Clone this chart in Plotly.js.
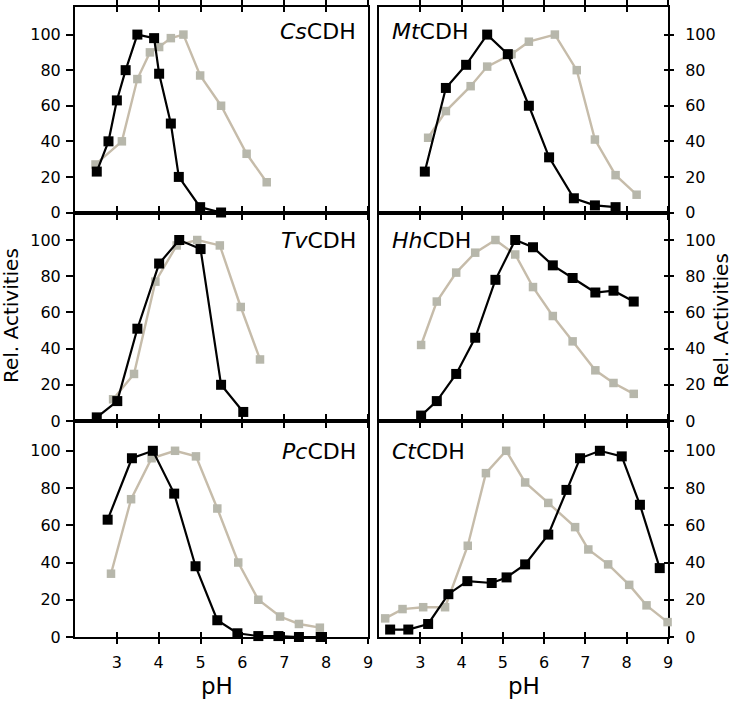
<!DOCTYPE html>
<html>
<head>
<meta charset="utf-8">
<script src="https://cdn.plot.ly/plotly-3.0.1.min.js"></script>
<style>
  html, body { margin: 0; padding: 0; background: #fff; }
  #plot { width: 742px; height: 703px; }
</style>
</head>
<body>
<div id="plot"></div>
<script>
// pH profiles, relative activity (%) - black and grey series per CDH
const csBlackPH = [2.52, 2.8, 3.0, 3.21, 3.49, 3.89, 4.01, 4.29, 4.48, 4.99, 5.49];
const csBlackAct = [23, 40, 63, 80, 100, 98, 78, 50, 20, 3, 0];
const csGreyPH = [2.49, 3.12, 3.49, 3.79, 4.01, 4.29, 4.59, 4.99, 5.49, 6.1, 6.58];
const csGreyAct = [27, 40, 75, 90, 93, 98, 100, 77, 60, 33, 17];

const mtBlackPH = [3.11, 3.62, 4.11, 4.62, 5.12, 5.63, 6.12, 6.72, 7.23, 7.73];
const mtBlackAct = [23, 70, 83, 100, 89, 60, 31, 8, 4, 3];
const mtGreyPH = [3.19, 3.62, 4.22, 4.62, 5.21, 5.63, 6.26, 6.79, 7.23, 7.73, 8.24];
const mtGreyAct = [42, 57, 71, 82, 89, 96, 100, 80, 41, 21, 10];

const tvBlackPH = [2.52, 3.01, 3.49, 4.01, 4.49, 5.0, 5.49, 6.02];
const tvBlackAct = [2, 11, 51, 87, 100, 95, 20, 5];
const tvGreyPH = [2.91, 3.41, 3.92, 4.43, 4.92, 5.46, 5.96, 6.42];
const tvGreyAct = [12, 26, 77, 97, 100, 97, 63, 34];

const hhBlackPH = [3.02, 3.4, 3.87, 4.33, 4.82, 5.3, 5.73, 6.21, 6.69, 7.24, 7.68, 8.17];
const hhBlackAct = [3, 11, 26, 46, 78, 100, 96, 86, 79, 71, 72, 66];
const hhGreyPH = [3.02, 3.4, 3.87, 4.33, 4.82, 5.3, 5.73, 6.21, 6.69, 7.24, 7.68, 8.17];
const hhGreyAct = [42, 66, 82, 93, 100, 92, 74, 58, 44, 28, 21, 15];

const pcBlackPH = [2.78, 3.36, 3.86, 4.37, 4.88, 5.4, 5.88, 6.38, 6.86, 7.35, 7.87];
const pcBlackAct = [63, 96, 100, 77, 38, 9, 2, 0.5, 0.5, 0, 0];
const pcGreyPH = [2.86, 3.34, 3.83, 4.39, 4.89, 5.4, 5.9, 6.38, 6.9, 7.35, 7.85];
const pcGreyAct = [34, 74, 96, 100, 97, 69, 40, 20, 11, 7, 5];

const ctBlackPH = [2.27, 2.71, 3.19, 3.68, 4.14, 4.73, 5.09, 5.54, 6.1, 6.54, 6.87, 7.35, 7.88, 8.32, 8.8];
const ctBlackAct = [4, 4, 7, 23, 30, 29, 32, 39, 55, 79, 96, 100, 97, 71, 37];
const ctGreyPH = [2.15, 2.57, 3.07, 3.6, 4.15, 4.59, 5.08, 5.54, 6.1, 6.75, 7.07, 7.55, 8.06, 8.48, 8.99];
const ctGreyAct = [10, 15, 16, 16, 49, 88, 100, 83, 72, 59, 47, 39, 28, 17, 8];

const xTicks = [3, 4, 5, 6, 7, 8, 9];
const yTicks = [0, 20, 40, 60, 80, 100];

const panels = [
  { label: "<i>Cs</i>CDH", row: 0, col: 0, bx: csBlackPH, by: csBlackAct, gx: csGreyPH, gy: csGreyAct },
  { label: "<i>Mt</i>CDH", row: 0, col: 1, bx: mtBlackPH, by: mtBlackAct, gx: mtGreyPH, gy: mtGreyAct },
  { label: "<i>Tv</i>CDH", row: 1, col: 0, bx: tvBlackPH, by: tvBlackAct, gx: tvGreyPH, gy: tvGreyAct },
  { label: "<i>Hh</i>CDH", row: 1, col: 1, bx: hhBlackPH, by: hhBlackAct, gx: hhGreyPH, gy: hhGreyAct },
  { label: "<i>Pc</i>CDH", row: 2, col: 0, bx: pcBlackPH, by: pcBlackAct, gx: pcGreyPH, gy: pcGreyAct },
  { label: "<i>Ct</i>CDH", row: 2, col: 1, bx: ctBlackPH, by: ctBlackAct, gx: ctGreyPH, gy: ctGreyAct }
];

const W = 742, H = 703;
const M = { l: 75, r: 74, t: 7, b: 66 };
const plotW = W - M.l - M.r, plotH = H - M.t - M.b;
function px2x(px) { return (px - M.l) / plotW; }
function px2y(py) { return (H - M.b - py) / plotH; }

const colDomains = [[0, px2x(368)], [px2x(379), 1]];
const rowDomains = [[px2y(212.5), 1], [px2y(421), px2y(212.5)], [0, px2y(421)]];
const rowRanges = [[0, 115.5], [0, 115.2], [0, 116]];
const labelY = [32, 240, 452];

const FONT = "DejaVu Sans, sans-serif";
const GREY_LINE = "#c6bcaa";
const GREY_MK = "#b7b7ab";

function axName(prefix, n) { return prefix + (n === 1 ? "" : n); }

const traces = [];
const layout = {
  width: W, height: H,
  margin: { l: M.l, r: M.r, t: M.t, b: M.b },
  paper_bgcolor: "#fff",
  plot_bgcolor: "rgba(0,0,0,0)",
  showlegend: false,
  hovermode: false,
  font: { family: FONT, size: 16, color: "#000" },
  annotations: []
};

panels.forEach((p, i) => {
  const n = i + 1;
  const xa = axName("x", n), ya = axName("y", n);
  const ox = "x" + (n + 6);

  traces.push({
    type: "scatter", mode: "lines+markers", x: p.gx, y: p.gy, xaxis: xa, yaxis: ya,
    line: { color: GREY_LINE, width: 2.4 },
    marker: { symbol: "square", size: 8.5, color: GREY_MK },
    cliponaxis: false
  });
  traces.push({
    type: "scatter", mode: "lines+markers", x: p.bx, y: p.by, xaxis: xa, yaxis: ya,
    line: { color: "#000", width: 2.2 },
    marker: { symbol: "square", size: 10, color: "#000" },
    cliponaxis: false
  });
  // empty trace so the inside-tick overlay axis gets drawn
  traces.push({ type: "scatter", x: [], y: [], xaxis: ox, yaxis: ya, hoverinfo: "skip" });

  const bottom = p.row === 2;
  layout[axName("xaxis", n)] = {
    domain: colDomains[p.col], anchor: ya, range: [2, 9], autorange: false,
    tickvals: xTicks, showticklabels: bottom, ticklabelstandoff: 5,
    ticks: "outside", ticklen: 5, tickwidth: 2, tickcolor: "#000",
    showline: true, linewidth: 2, linecolor: "#000", mirror: "ticks",
    showgrid: false, zeroline: false, layer: "below traces",
    tickfont: { family: FONT, size: 16, color: "#000" }
  };
  layout["xaxis" + (n + 6)] = {
    overlaying: xa, anchor: ya, range: [2, 9], autorange: false,
    tickvals: xTicks, showticklabels: false,
    ticks: "inside", ticklen: 5, tickwidth: 2, tickcolor: "#000",
    showline: false, mirror: "ticks", showgrid: false, zeroline: false, layer: "below traces"
  };

  const right = p.col === 1;
  layout[axName("yaxis", n)] = {
    domain: rowDomains[p.row], anchor: xa, side: right ? "right" : "left",
    range: rowRanges[p.row], autorange: false, tickvals: yTicks,
    ticks: "outside", ticklen: right ? 4 : 7, tickwidth: 2, tickcolor: "#000",
    ticklabelstandoff: right ? 8 : 2,
    showline: true, linewidth: 2, linecolor: "#000", mirror: true,
    showgrid: false, zeroline: false, layer: "below traces",
    tickfont: { family: FONT, size: 16, color: "#000" }
  };
  if (right) {
    const oy = "y" + (12 + p.row + 1);
    layout["yaxis" + (12 + p.row + 1)] = {
      overlaying: ya, anchor: xa, side: "right",
      range: rowRanges[p.row], autorange: false, tickvals: yTicks, showticklabels: false,
      ticks: "inside", ticklen: 4, tickwidth: 2, tickcolor: "#000",
      showline: false, showgrid: false, zeroline: false
    };
    traces.push({ type: "scatter", x: [], y: [], xaxis: xa, yaxis: oy, hoverinfo: "skip" });
  }

  layout.annotations.push({
    text: p.label, xref: "paper", yref: "paper",
    x: right ? px2x(390) : px2x(358), y: px2y(labelY[p.row]),
    xanchor: right ? "left" : "right", yanchor: "middle", showarrow: false,
    font: { family: FONT, size: 22, color: "#000" }
  });
});

// axis titles
[[217, "pH"], [524, "pH"]].forEach(([x, t]) => {
  layout.annotations.push({
    text: t, xref: "paper", yref: "paper", x: px2x(x), y: px2y(686),
    xanchor: "center", yanchor: "middle", showarrow: false,
    font: { family: FONT, size: 23, color: "#000" }
  });
});
[[11, 316], [721, 321]].forEach(([x, y]) => {
  layout.annotations.push({
    text: "Rel. Activities", xref: "paper", yref: "paper", x: px2x(x), y: px2y(y),
    xanchor: "center", yanchor: "middle", textangle: -90, showarrow: false,
    font: { family: FONT, size: 20, color: "#000" }
  });
});

Plotly.newPlot("plot", traces, layout, { displayModeBar: false, staticPlot: true });
</script>
</body>
</html>
